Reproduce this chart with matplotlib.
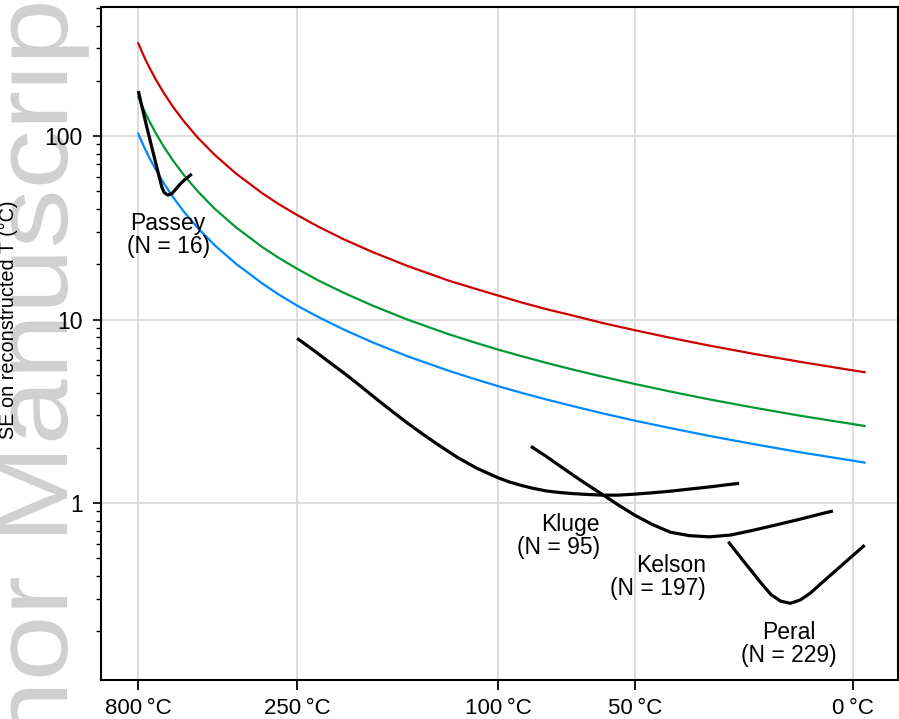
import numpy as np
import matplotlib
matplotlib.use("Agg")
import matplotlib.pyplot as plt
from matplotlib.textpath import TextPath
from matplotlib.patches import PathPatch
from matplotlib.font_manager import FontProperties
import matplotlib.transforms as mtransforms

plt.rcParams['font.family'] = ['Liberation Sans', 'DejaVu Sans']

# temperatures (°C) at which the SE curves were read
t_curve = [800, 775, 750, 725, 700, 650, 600, 550, 500, 450, 400, 350, 300,
           275, 250, 225, 200, 175, 150, 125, 110, 100, 90, 80, 70, 60, 50,
           40, 30, 20, 10, 0, -2]
se_red = [320, 298.2, 277.3, 257.5, 238.6, 203.7, 172.4, 144.4, 119.7, 97.9,
          79.0, 62.7, 48.7, 42.6, 37.1, 32.0, 27.4, 23.3, 19.6, 16.3, 14.6,
          13.5, 12.4, 11.4, 10.5, 9.57, 8.74, 7.95, 7.21, 6.52, 5.88, 5.28, 5.16]
se_green = [163, 151.9, 141.3, 131.2, 121.5, 103.8, 87.8, 73.6, 61.0, 49.9,
            40.2, 31.9, 24.8, 21.7, 18.9, 16.3, 14.0, 11.9, 10.0, 8.32, 7.42,
            6.85, 6.32, 5.81, 5.33, 4.88, 4.45, 4.05, 3.67, 3.32, 2.99, 2.69, 2.63]
se_blue = [103, 96.0, 89.3, 82.9, 76.8, 65.6, 55.5, 46.5, 38.5, 31.5, 25.4,
           20.2, 15.7, 13.7, 11.9, 10.3, 8.83, 7.50, 6.31, 5.26, 4.69, 4.33,
           3.99, 3.67, 3.37, 3.08, 2.81, 2.56, 2.32, 2.10, 1.89, 1.70, 1.66]

# calibration data sets
passey_t = [800, 719, 655, 611, 598, 586, 575, 555, 536, 518, 495, 471]
passey_se = [175.8, 112.4, 74.0, 52.9, 49.5, 48.3, 47.7, 48.6, 51.4, 54.6, 58.3, 62.1]
kluge_t = [250, 240, 230, 220, 210, 200, 190, 180, 170, 160, 150, 140, 130,
           120, 110, 100, 95, 90, 85, 80, 75, 70, 65, 60, 55, 50, 45, 40, 35,
           30, 25, 23]
kluge_se = [7.89, 7.33, 6.77, 6.20, 5.65, 5.13, 4.60, 4.08, 3.59, 3.14, 2.73,
            2.37, 2.05, 1.768, 1.542, 1.370, 1.301, 1.247, 1.201, 1.164, 1.141,
            1.125, 1.113, 1.104, 1.104, 1.118, 1.137, 1.160, 1.191, 1.224,
            1.264, 1.280]
kelson_t = [86, 80, 75, 70, 65, 60, 55, 50, 45, 40, 35, 30, 25, 20, 15, 10, 5, 3.7]
kelson_se = [2.035, 1.797, 1.599, 1.418, 1.255, 1.111, 0.974, 0.857, 0.764,
             0.693, 0.664, 0.654, 0.669, 0.709, 0.759, 0.817, 0.887, 0.905]
peral_t = [25.5, 22, 20, 18, 16, 14, 12, 10, 8, 6, 4, 2, 0, -2]
peral_se = [0.615, 0.482, 0.419, 0.363, 0.317, 0.292, 0.284, 0.296, 0.323,
            0.363, 0.408, 0.460, 0.520, 0.589]

xtick_t = [800, 250, 100, 50, 0]


def fx(t):
    return 1e6 / (np.asarray(t, dtype=float) + 273.15) ** 2


fig = plt.figure(figsize=(8.99, 7.19), dpi=100)
ax = fig.add_axes([101 / 899, 39 / 719, 797 / 899, 673 / 719])

ax.grid(True, color='#d6d6d6', lw=1.2, zorder=0)
ax.plot(fx(t_curve), se_red, color='#cc0000', lw=1.6, zorder=2)
ax.plot(fx(t_curve), se_green, color='#009933', lw=1.6, zorder=2)
ax.plot(fx(t_curve), se_blue, color='#0088ff', lw=1.6, zorder=2)
for tt, ss in [(passey_t, passey_se), (kluge_t, kluge_se),
               (kelson_t, kelson_se), (peral_t, peral_se)]:
    ax.plot(fx(tt), ss, color='black', lw=2.3, zorder=3,
            solid_capstyle='butt', solid_joinstyle='round')

lab = dict(fontsize=16.5, linespacing=1.0, va='center')
ax.text(fx(575), 28.9, 'Passey\n(N = 16)', ha='center', multialignment='center', **lab)
ax.text(fx(60.9), 0.665, 'Kluge\n(N = 95)', ha='right', multialignment='right', **lab)
ax.text(fx(30.9), 0.393, 'Kelson\n(N = 197)', ha='right', multialignment='right', **lab)
ax.text(fx(12.4), 0.1715, 'Peral\n(N = 229)', ha='center', multialignment='center', **lab)

ax.set_yscale('log')
ax.set_ylim(0.1085, 505)
ax.set_xlim(0.2144, 14.187)
ax.set_yticks([1, 10, 100], labels=['1', '10', '100'])
ax.set_xticks(fx(xtick_t), labels=[f'{t}\u2009°C' for t in xtick_t])
ax.xaxis.set_minor_locator(matplotlib.ticker.NullLocator())
ax.tick_params(axis='y', which='major', length=6, width=1.2, labelsize=16.5, pad=7)
ax.tick_params(axis='y', which='minor', length=3.5, width=1.0)
ax.tick_params(axis='x', which='major', length=7, width=1.3, labelsize=16, pad=6)
ax.set_ylabel('SE on reconstructed T (°C)', fontsize=14.3)
ax.yaxis.set_label_coords(-0.104, 0.535)
for sp in ax.spines.values():
    sp.set_linewidth(1.5)

# faint watermark on the left edge
fp = FontProperties(family='Liberation Sans')
tp = TextPath((0, 0), 'Author Manuscript', size=1, prop=fp)
trans = (mtransforms.Affine2D().scale(118, 105).rotate_deg(90)
         .translate(67, -205).scale(1 / 100) + fig.dpi_scale_trans)
fig.add_artist(PathPatch(tp, transform=trans, facecolor='#d0d0d0',
                         edgecolor='none', zorder=-1))

fig.savefig('out.png', dpi=100)
